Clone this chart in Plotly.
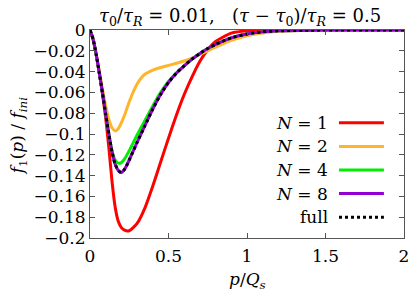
import plotly.graph_objects as go

# ---- data ----
p = [0, 0.02, 0.04, 0.06, 0.08, 0.10, 0.12, 0.14, 0.16, 0.18, 0.20, 0.22, 0.25,
     0.30, 0.35, 0.40, 0.45, 0.50, 0.55, 0.60, 0.65, 0.70, 0.75, 0.80, 0.90,
     1.00, 1.10, 1.20, 1.40, 1.60, 2.00]

f_N1 = [0, -0.009, -0.024, -0.042, -0.062, -0.085, -0.113, -0.145, -0.170, -0.184,
        -0.190, -0.1925, -0.193, -0.186, -0.171, -0.150, -0.127, -0.104, -0.082,
        -0.062, -0.045, -0.030, -0.019, -0.011, -0.003, -0.0008, -0.0002, 0, 0, 0, 0]

f_N2 = [0, -0.009, -0.024, -0.040, -0.057, -0.073, -0.086, -0.094, -0.097, -0.095,
        -0.089, -0.082, -0.069, -0.052, -0.0425, -0.0385, -0.036, -0.034, -0.032,
        -0.0298, -0.027, -0.0235, -0.020, -0.0165, -0.010, -0.0055, -0.0028,
        -0.0013, -0.0002, 0, 0]

f_N4 = [0, -0.009, -0.024, -0.042, -0.061, -0.081, -0.100, -0.116, -0.125, -0.128,
        -0.1275, -0.124, -0.116, -0.101, -0.087, -0.073, -0.060, -0.0495, -0.0415,
        -0.0345, -0.028, -0.0225, -0.0178, -0.0138, -0.0075, -0.0038, -0.0018,
        -0.0008, -0.0002, 0, 0]

f_N8 = [0, -0.009, -0.024, -0.042, -0.061, -0.081, -0.100, -0.117, -0.129, -0.135,
        -0.137, -0.134, -0.125, -0.108, -0.092, -0.076, -0.062, -0.0505, -0.0415,
        -0.0345, -0.028, -0.0225, -0.0178, -0.0138, -0.0075, -0.0038, -0.0018,
        -0.0008, -0.0002, 0, 0]

f_full = [0, -0.009, -0.024, -0.042, -0.061, -0.081, -0.100, -0.117, -0.129, -0.135,
          -0.137, -0.134, -0.125, -0.108, -0.092, -0.076, -0.062, -0.0505, -0.0415,
          -0.0345, -0.028, -0.0225, -0.0178, -0.0138, -0.0075, -0.0038, -0.0018,
          -0.0008, -0.0002, 0, 0]

series_names = ["<i>N</i> = 1", "<i>N</i> = 2", "<i>N</i> = 4", "<i>N</i> = 8", "full"]
series_values = [f_N1, f_N2, f_N4, f_N8, f_full]

x_ticks = [0, 0.5, 1, 1.5, 2]
x_ticklabels = ["0", "0.5", "1", "1.5", "2"]
y_ticks = [0, -0.02, -0.04, -0.06, -0.08, -0.1, -0.12, -0.14, -0.16, -0.18, -0.2]
y_ticklabels = ["0", "−0.02", "−0.04", "−0.06", "−0.08", "−0.1", "−0.12",
                "−0.14", "−0.16", "−0.18", "−0.2"]

# ---- styles ----
colors = ["#ff0000", "#ffb42a", "#00ee00", "#9400d3", "#000000"]
dashes = ["solid", "solid", "solid", "solid", "dot"]
FONT = "DejaVu Serif"
FS = 17
AX = "#555555"

fig = go.Figure()
for name, vals, c, d in zip(series_names, series_values, colors, dashes):
    fig.add_trace(go.Scatter(x=p, y=vals, mode="lines", name=name,
                             line=dict(color=c, width=3, dash=d, shape="spline", smoothing=0.6),
                             showlegend=False))

# manual legend: text right-aligned, line sample to its right
leg_top = 0.554
leg_step = 0.1135
for i, (name, c, d) in enumerate(zip(series_names, colors, dashes)):
    yy = leg_top - i * leg_step
    fig.add_annotation(x=0.765, y=yy, xref="paper", yref="paper", text=name,
                       showarrow=False, xanchor="right", yanchor="middle",
                       font=dict(family=FONT, size=FS, color="black"))
    fig.add_shape(type="line", xref="paper", yref="paper", x0=0.793, x1=0.936,
                  y0=yy, y1=yy, line=dict(color=c, width=3, dash=d))

# axis titles and chart title as annotations for exact placement
fig.add_annotation(x=0.5, y=-0.205, xref="paper", yref="paper",
                   text="<i>p</i>/<i>Q</i><sub><i>s</i></sub>", showarrow=False,
                   xanchor="center", yanchor="middle", font=dict(family=FONT, size=FS))
fig.add_annotation(x=-0.229, y=0.49, xref="paper", yref="paper", textangle=-90,
                   text="<i>f</i><sub>1</sub>(<i>p</i>) / <i>f</i><sub><i>ini</i></sub>",
                   showarrow=False, xanchor="center", yanchor="middle",
                   font=dict(family=FONT, size=FS))
fig.add_annotation(x=0.479, y=1.062, xref="paper", yref="paper",
                   text="<i>τ</i><sub>0</sub>/<i>τ</i><sub><i>R</i></sub> = 0.01,\u00a0\u00a0\u00a0"
                        "(<i>τ</i> − <i>τ</i><sub>0</sub>)/<i>τ</i><sub><i>R</i></sub> = 0.5",
                   showarrow=False, xanchor="center", yanchor="middle",
                   font=dict(family=FONT, size=18))

fig.update_layout(
    width=409, height=292,
    margin=dict(l=90, r=5, t=30, b=54),
    paper_bgcolor="white", plot_bgcolor="white",
    font=dict(family=FONT, size=FS, color="black"),
)
fig.update_xaxes(range=[0, 2], tickvals=x_ticks, ticktext=x_ticklabels, automargin=False,
                 tickfont=dict(family=FONT, size=FS), ticklabeloverflow="allow",
                 ticklabelstandoff=3,
                 showgrid=False, zeroline=False, showline=True, linecolor=AX, linewidth=1,
                 mirror="ticks", ticks="inside", ticklen=5, tickcolor=AX)
fig.update_yaxes(range=[-0.2, 0], tickvals=y_ticks, ticktext=y_ticklabels, automargin=False,
                 tickfont=dict(family=FONT, size=FS), ticklabeloverflow="allow",
                 showgrid=False, zeroline=False, showline=True, linecolor=AX, linewidth=1,
                 mirror="ticks", ticks="inside", ticklen=5, tickcolor=AX)

# remove the default page margin so the 409x292 figure fills the window exactly
fig.write_html("out.html",
               config={"displayModeBar": False},
               post_script="document.body.style.margin='0px';"
                           "document.documentElement.style.overflow='hidden';")
